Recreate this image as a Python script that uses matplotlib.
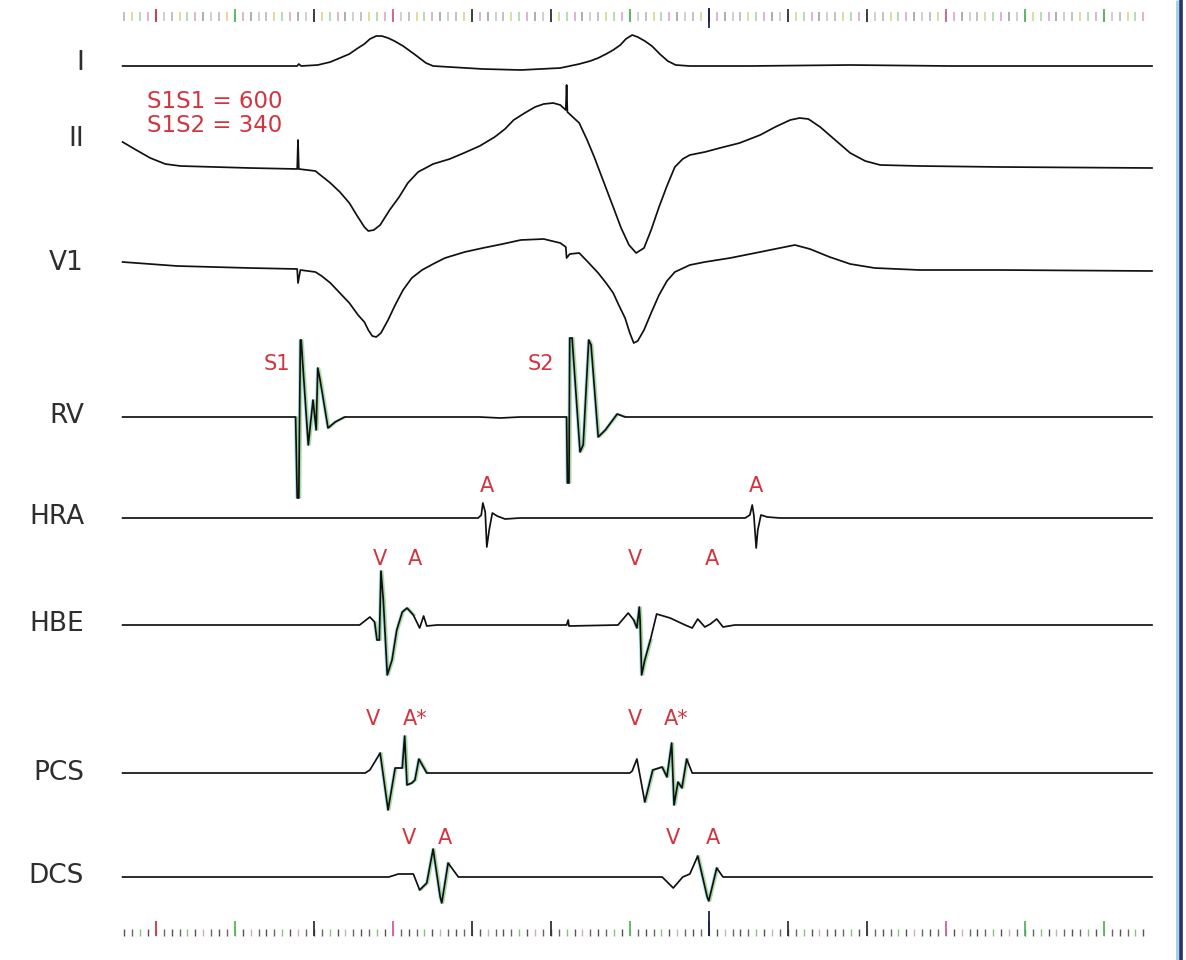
import numpy as np
import matplotlib.pyplot as plt

# Intracardiac recording: S1 drive at 600 ms, S2 extrastimulus at 340 ms.
# Time in ms from the last S1 pacing spike, amplitude in display units (up = positive).

channels = ["I", "II", "V1", "RV", "HRA", "HBE", "PCS", "DCS"]

i_t = [-222, -124, -61, -1, 1, 4, 25, 41, 53, 65, 76, 84, 91, 99, 106, 114, 122, 133,
       147, 162, 171, 192, 234, 282, 332, 356, 370, 380, 390, 399, 408, 415, 423, 430,
       439, 448, 458, 468, 478, 496, 572, 699, 825, 1081]
i_v = [0, 0, 0, 0, 2, 0, 1, 4, 8, 12, 18, 22, 27, 30, 30, 28, 25, 20,
       12, 3, 0, -1, -3, -4, -2, 2, 5, 8, 12, 16, 21, 27, 31, 29,
       25, 20, 12, 5, 1, 0, 0, 1, 0, 0]

ii_t = [-222, -207, -187, -168, -149, -105, -61, -1, 0, 1, 22, 41, 53, 65, 75, 84, 89,
        96, 104, 116, 128, 139, 152, 171, 192, 210, 230, 249, 262, 273, 287, 300, 311,
        323, 332, 339, 340, 341, 356, 366, 375, 386, 399, 409, 419, 428, 438, 447, 457,
        467, 477, 487, 496, 515, 534, 559, 585, 604, 623, 635, 646, 661, 680, 699, 718,
        737, 787, 889, 1081]
ii_v = [26, 19, 10, 4, 2, 1, 0, -1, 28, -1, -3, -15, -24, -35, -48, -59, -63,
        -62, -57, -42, -29, -15, -4, 4, 9, 15, 22, 31, 39, 48, 55, 61, 64,
        65, 63, 58, 83, 56, 45, 28, 11, -12, -39, -60, -77, -85, -80, -62, -39,
        -18, 1, 9, 13, 16, 20, 25, 33, 41, 48, 50, 49, 41, 28, 15, 7,
        3, 2, 1, 0]

v1_t = [-222, -153, -61, -1, 0, 3, 22, 30, 41, 53, 65, 76, 84, 89, 94, 99, 105, 114,
        123, 133, 144, 157, 171, 186, 211, 234, 259, 282, 311, 332, 339, 340, 344, 356,
        367, 380, 390, 399, 406, 414, 420, 425, 430, 438, 447, 457, 467, 477, 496, 515,
        547, 585, 610, 629, 648, 673, 699, 730, 787, 889, 1081]
v1_v = [6, 2, 0, -1, -15, -2, -4, -8, -15, -25, -35, -47, -54, -62, -68, -69, -65, -52,
        -37, -22, -10, -2, 4, 10, 16, 20, 24, 28, 29, 25, 21, 10, 14, 15,
        6, -5, -15, -25, -37, -50, -65, -75, -73, -62, -45, -27, -13, -4, 3, 6,
        10, 16, 20, 23, 19, 11, 4, 0, -2, -2, -3]

rv_t = [-222, -3, -1, 1, 3, 4, 13, 19, 23, 25, 28, 38, 47, 59, 230, 256, 281, 340,
        341, 343, 344, 347, 357, 361, 368, 371, 380, 389, 404, 414, 1081]
rv_v = [0, 0, -81, -81, 77, 77, -28, 17, -13, 49, 37, -11, -5, 0, 0, -1, 0, 0,
        -66, -66, 79, 79, -35, -28, 77, 72, -20, -13, 3, 0, 0]

hra_t = [-222, 228, 232, 234, 237, 239, 242, 246, 252, 262, 281, 566, 572, 575, 577,
         580, 582, 586, 594, 610, 1081]
hra_v = [0, 0, 3, 15, 6, -29, -12, 5, 2, -1, 0, 0, 3, 13, 3,
         -30, -12, 3, 1, 0, 0]

hbe_t = [-222, 78, 91, 97, 100, 103, 105, 108, 113, 119, 125, 132, 138, 146, 154, 159,
         163, 176, 340, 342, 343, 405, 418, 425, 429, 432, 433, 435, 439, 446, 454, 471,
         490, 499, 506, 515, 522, 530, 538, 553, 1081]
hbe_v = [0, 0, 8, 3, -15, -15, 54, 25, -50, -35, -5, 13, 17, 10, -3, 9,
         -1, 0, 0, 5, -1, 0, 12, 5, -3, 18, 5, -50, -35, -15, 11, 7,
         0, -3, 6, -2, 1, 6, -2, 0, 0]

pcs_t = [-222, 85, 91, 104, 114, 123, 132, 135, 138, 144, 148, 153, 158, 163, 420, 423,
         429, 439, 449, 461, 467, 473, 476, 481, 486, 492, 499, 1081]
pcs_v = [0, 0, 3, 20, -37, 5, 5, 37, -12, -10, -7, 14, 7, 0, 0, 2,
         14, -29, 3, 6, -4, 30, -32, -9, -15, 14, 0, 0]

dcs_t = [-222, 115, 127, 146, 154, 163, 171, 180, 182, 190, 203, 461, 475, 487, 496,
         506, 518, 520, 530, 538, 1081]
dcs_v = [0, 0, 3, 3, -13, -6, 28, -20, -26, 14, 0, 0, -11, 0, 3,
         21, -20, -24, 9, 0, 0]

traces = [(i_t, i_v), (ii_t, ii_v), (v1_t, v1_v), (rv_t, rv_v), (hra_t, hra_v),
          (hbe_t, hbe_v), (pcs_t, pcs_v), (dcs_t, dcs_v)]

# Page layout (pixel rows on the strip)
baselines = [66, 168, 268, 417, 518, 625, 773, 877]
label_rows = [63, 139, 263, 416, 517, 624, 773, 876]
PX_PER_MS = 0.79
S1_PX = 298

# windows where the sharp deflections pick up colour fringing
fringe = {3: [(-5, 65), (338, 420)], 5: [(95, 150), (425, 450)],
          6: [(100, 165), (435, 495)], 7: [(150, 200), (500, 535)]}

annotations = [("S1", -27, 364), ("S2", 307, 364),
               ("A", 239, 486), ("A", 580, 486),
               ("V", 104, 559), ("A", 148, 559), ("V", 427, 559), ("A", 524, 559),
               ("V", 95, 719), ("A*", 148, 719), ("V", 427, 719), ("A*", 479, 719),
               ("V", 141, 838), ("A", 186, 838), ("V", 474, 838), ("A", 525, 838)]

RED = "#d2353f"

fig = plt.figure(figsize=(11.86, 9.6), dpi=100)
ax = fig.add_axes([0, 0, 1, 1])
ax.set_xlim(-S1_PX / PX_PER_MS, (1186 - S1_PX) / PX_PER_MS)
ax.set_ylim(960, 0)
ax.axis("off")

for k, (t, v) in enumerate(traces):
    t = np.asarray(t, dtype=float)
    y = baselines[k] - np.asarray(v, dtype=float)
    for lo, hi in fringe.get(k, []):
        m = (t >= lo) & (t <= hi)
        for dx, c in [(-1.2, "#40c8e0"), (1.2, "#e8e050"), (2.2, "#60c080")]:
            ax.plot(t[m] + dx, y[m], color=c, lw=1.2, alpha=0.5, zorder=2)
    ax.plot(t, y, color="#111111", lw=1.25, zorder=3, solid_joinstyle="round")
    ax.text(-S1_PX / PX_PER_MS + 84 / PX_PER_MS, label_rows[k], channels[k],
            ha="right", va="center", fontsize=19, color="#2e2e2e")

ax.text(-191, 102, "S1S1 = 600", ha="left", va="center", fontsize=16.5, color=RED)
ax.text(-191, 126, "S1S2 = 340", ha="left", va="center", fontsize=16.5, color=RED)
for txt, t, row in annotations:
    ax.text(t, row, txt, ha="center", va="center", fontsize=15, color=RED)

# timing marks, 10 ms minor / 100 ms major, along top and bottom of the strip
minor = np.arange(-220, 1080, 10)
major = np.arange(-180, 1080, 100)
major_cols = ["#c8354a", "#55b560", "#333333", "#d0609a", "#333333", "#333333",
              "#55b560", "#222222", "#333333", "#333333", "#d0609a", "#55b560", "#55b560"]
pastel = ["#b8b8b8", "#d8d890", "#a8d8a8", "#d8a8c8", "#a0a0a0", "#c8c8c8"]
bottom_minor = ["#555555", "#666666", "#8abf80", "#555555", "#c8b0c0", "#666666"]
ax.vlines(minor, 12, 21, colors=[pastel[j % len(pastel)] for j in range(len(minor))],
          lw=1.2, zorder=1)
ax.vlines(minor, 929, 936, colors=[bottom_minor[j % len(bottom_minor)] for j in range(len(minor))],
          lw=1.0, zorder=1)
ax.vlines(major, 9, 22, colors=major_cols[:len(major)], lw=1.3, zorder=1)
ax.vlines(major, 921, 936, colors=major_cols[:len(major)], lw=1.3, zorder=1)
ax.vlines([520], 8, 28, colors="#1c2450", lw=1.3, zorder=1)
ax.vlines([520], 911, 936, colors="#1c2450", lw=1.3, zorder=1)

# edge of the recording paper
ax.vlines([(1177 - S1_PX) / PX_PER_MS], 0, 960, colors="#7ec8e0", lw=2.0, alpha=0.8)
ax.vlines([(1181 - S1_PX) / PX_PER_MS], 0, 960, colors="#27306a", lw=2.6)

fig.savefig("out.png", dpi=100)
